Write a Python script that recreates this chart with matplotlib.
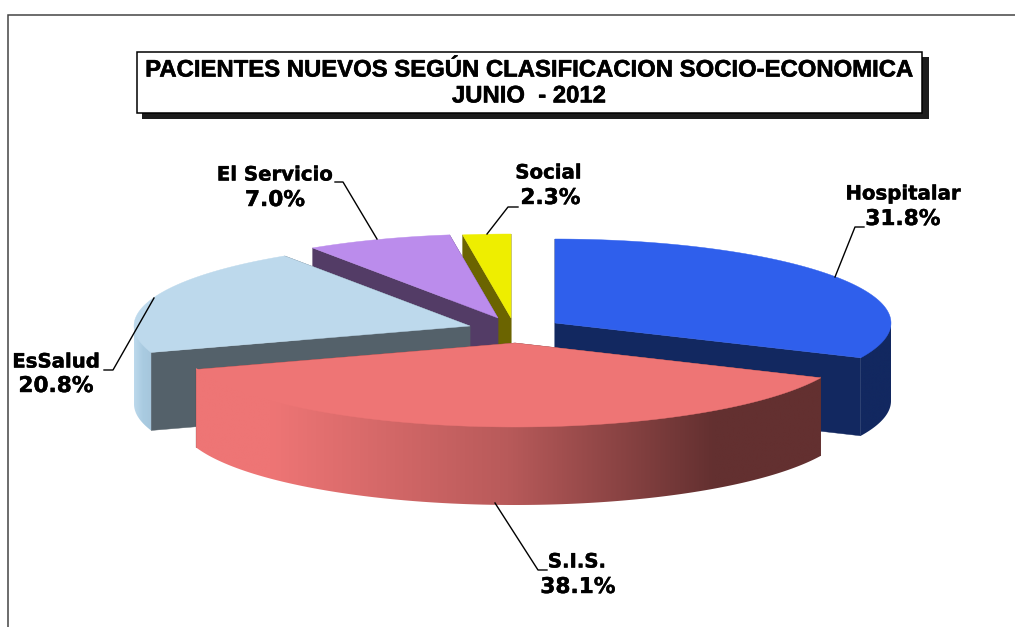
import numpy as np
import matplotlib
matplotlib.use("Agg")
import matplotlib.pyplot as plt
import matplotlib.patheffects as pe
from matplotlib.colors import LinearSegmentedColormap
from matplotlib.patches import Rectangle, Polygon

# ---- data ----
categories = ["Hospitalar", "S.I.S.", "EsSalud", "El Servicio", "Social"]
values = [31.8, 38.1, 20.8, 7.0, 2.3]
title_lines = ["PACIENTES NUEVOS SEGÚN CLASIFICACION SOCIO-ECONOMICA", "JUNIO  - 2012"]

# ---- layout / style (pixel space of the figure) ----
W, H = 1015, 627
RX, RY, DEPTH = 336, 84, 78
apex_x = [555, 515, 470, 498, 511]
apex_y = [323, 343, 326, 318, 318]
top_colors = ["#2F5FEC", "#EE7575", "#BDD9EC", "#BB8CEC", "#EEEE00"]
side_colors = ["#122860", "#633030", "#54616A", "#533C66", "#6B6400"]
outer_stops = [
    [(0, "#122860"), (1, "#122860")],
    [(0, "#EE7575"), (0.12, "#EE7575"), (0.5, "#B85A5A"), (0.83, "#633030"), (1, "#633030")],
    [(0, "#BDD9EC"), (0.5, "#A9CBE1"), (1, "#A6C6DC")],
    [(0, "#533C66"), (1, "#533C66")],
    [(0, "#6B6400"), (1, "#6B6400")],
]
draw_order = [4, 3, 2, 0, 1]
name_pos = [(903, 194), (577, 562), (56, 362), (275, 175), (548.5, 173)]
pct_pos = [(903, 219), (578, 587), (56, 386), (275, 200), (550.5, 198)]
leaders = [
    [(835, 277), (855, 227), (864, 227)],
    [(495, 503), (538, 570), (547, 570)],
    [(154, 298), (113, 370), (104, 370)],
    [(377, 239), (343, 182), (335, 182)],
    [(487, 234), (508, 207), (518, 207)],
]

fig = plt.figure(figsize=(W / 100, H / 100), dpi=100, facecolor="white")
ax = fig.add_axes([0, 0, 1, 1])
ax.axis("off")

# frame
ax.plot([8, 8, W], [H, 15, 15], color="#444444", lw=1.1, solid_joinstyle="miter", zorder=1)

# title box
ax.add_patch(Rectangle((142, 57), 787, 62, fc="#1c1c1c", ec="none", zorder=2))
ax.add_patch(Rectangle((137.5, 51.5), 785, 61.5, fc="white", ec="black", lw=1.1, zorder=3))
ax.text(529, 83, "\n".join(title_lines), ha="center", va="center", fontsize=17.2,
        family="Liberation Sans", fontweight="bold", color="black", linespacing=1.16, zorder=4,
        path_effects=[pe.withStroke(linewidth=0.4, foreground="black")])

# cumulative angles, clockwise from 12 o'clock
total = sum(values)
bounds = np.radians(np.cumsum([0] + values) / total * 360)


def ell(cx, cy, t):
    return cx + RX * np.sin(t), cy - RY * np.cos(t)


z = 10
for i in draw_order:
    a0, a1 = bounds[i], bounds[i + 1]
    cx, cy = apex_x[i], apex_y[i]
    # radial walls
    for a in (a0, a1):
        ex, ey = ell(cx, cy, a)
        ax.add_patch(Polygon([(cx, cy), (ex, ey), (ex, ey + DEPTH), (cx, cy + DEPTH)],
                             fc=side_colors[i], ec=side_colors[i], lw=0.3, zorder=z))
    # outer rim: only the front-facing part of the arc, shaded left to right
    lo, hi = max(a0, np.pi / 2), min(a1, 3 * np.pi / 2)
    if hi > lo:
        ts = np.linspace(lo, hi, 200)
        xs, ys = ell(cx, cy, ts)
        rim = Polygon(np.column_stack([np.r_[xs, xs[::-1]], np.r_[ys - 1.5, ys[::-1] + DEPTH]]),
                      fc="none", ec="none", transform=ax.transData)
        ax.add_patch(rim)
        cmap = LinearSegmentedColormap.from_list("c", outer_stops[i])
        im = ax.imshow(np.linspace(0, 1, 256)[None, :], cmap=cmap, aspect="auto",
                       extent=[xs.min(), xs.max(), ys.max() + DEPTH, ys.min() - 2],
                       zorder=z + 1, interpolation="bilinear")
        im.set_clip_path(rim)
    # top face
    ts = np.linspace(a0, a1, 200)
    xs, ys = ell(cx, cy, ts)
    ax.add_patch(Polygon(np.column_stack([np.r_[cx, xs], np.r_[cy, ys]]),
                         fc=top_colors[i], ec=top_colors[i], lw=0.3, zorder=z + 2))
    z += 3

# leaders and labels
stroke = [pe.withStroke(linewidth=0.3, foreground="black")]
for name, val, pn, pv, pts in zip(categories, values, name_pos, pct_pos, leaders):
    px, py = zip(*pts)
    ax.plot(px, py, color="black", lw=1.0, zorder=60)
    ax.text(pn[0], pn[1], name, ha="center", va="center", fontsize=14.2, family="DejaVu Sans",
            fontweight="bold", color="black", zorder=61, path_effects=stroke)
    ax.text(pv[0], pv[1], f"{val:.1f}%", ha="center", va="center", fontsize=15.6, family="DejaVu Sans",
            fontweight="bold", color="black", zorder=61, path_effects=stroke)

ax.set_xlim(0, W)
ax.set_ylim(H, 0)
fig.savefig("out.png", dpi=100, facecolor="white")
